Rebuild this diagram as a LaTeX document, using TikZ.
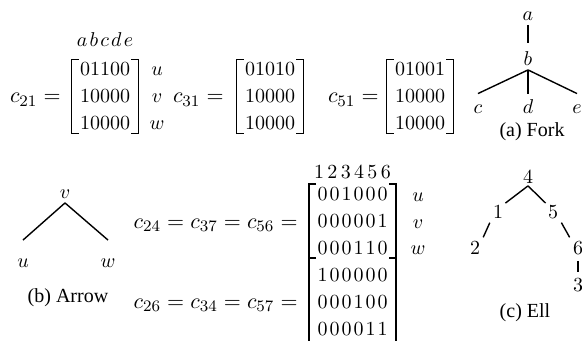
\documentclass[tikz,border=0pt]{standalone}
\usepackage{amsmath}
\usepackage{fontspec}
\newfontfamily\capfont{Liberation Serif}
\usetikzlibrary{matrix}

\begin{document}
\begin{tikzpicture}[x=0.5pt, y=-0.5pt,
    mat/.style={matrix of math nodes, inner xsep=4pt, inner ysep=1.5pt, row sep=7pt,
        nodes={inner sep=0pt, text height=6.5pt, text depth=0pt}},
    matsp/.style={mat, column sep=1pt},
    brk/.style={line width=0.8pt},
    leaf/.style={inner sep=1pt, text height=1.5ex, text depth=.25ex},
    numv/.style={inner sep=1pt, text height=6.5pt, text depth=0pt},
    branch/.style={line width=0.7pt},
    lbl/.style={anchor=base east, inner sep=0pt, font=\fontsize{11}{13}\selectfont},
    capt/.style={anchor=base, font=\capfont}
]
\useasboundingbox (0,0) rectangle (582,341);

% top row
\node[anchor=base, inner sep=0pt] (hd1) at (105,46.5) {$a\mkern2mu b\mkern2mu c\mkern2mu d\mkern2mu e$};
\node[lbl] (l21) at (61,103) {$c_{21} =$};
\matrix (m21) [mat] at (105,96.5) {01100\\10000\\10000\\};
\node[anchor=base] (u1) at (157,76) {$u$};
\node[anchor=base] (v1) at (157,103) {$v$};
\node[anchor=base] (w1) at (157,130) {$w$};
\node[lbl] (l31) at (224,103) {$c_{31} =$};
\matrix (m31) [mat] at (270,96.5) {01010\\10000\\10000\\};
\node[lbl] (l51) at (379,103) {$c_{51} =$};
\matrix (m51) [mat] at (420,96.5) {01001\\10000\\10000\\};

\draw[brk] ([xshift=3.5pt]m21.north west) -| (m21.south west) -- ++(3.5pt,0);
\draw[brk] ([xshift=-3.5pt]m21.north east) -| (m21.south east) -- ++(-3.5pt,0);
\draw[brk] ([xshift=3.5pt]m31.north west) -| (m31.south west) -- ++(3.5pt,0);
\draw[brk] ([xshift=-3.5pt]m31.north east) -| (m31.south east) -- ++(-3.5pt,0);
\draw[brk] ([xshift=3.5pt]m51.north west) -| (m51.south west) -- ++(3.5pt,0);
\draw[brk] ([xshift=-3.5pt]m51.north east) -| (m51.south east) -- ++(-3.5pt,0);

% fork
\node[leaf] (a) at (528,15) {$a$};
\node[leaf] (b) at (528,60) {$b$};
\node[leaf] (c) at (478,108) {$c$};
\node[leaf] (d) at (528,108) {$d$};
\node[leaf] (e) at (577,108) {$e$};
\draw[branch] (a.south) -- ([yshift=3.75pt]b.north);
\draw[branch] (b.south) -- ([yshift=2.25pt]c.north);
\draw[branch] (b.south) -- ([yshift=2.25pt]d.north);
\draw[branch] (b.south) -- ([yshift=2.25pt]e.north);
\node[capt] (capa) at (532,137) {(a) Fork};

% arrow
\node[leaf] (v) at (65,193) {$v$};
\node[leaf] (u) at (23,262) {$u$};
\node[leaf] (w) at (108,262) {$w$};
\draw[branch] (v.south) -- ([yshift=6pt]u.north);
\draw[branch] (v.south) -- ([yshift=6pt]w.north);
\node[capt] (capb) at (68,302) {(b) Arrow};

% bottom matrices
\node[anchor=base, inner sep=0pt] (hd2) at (352.5,178.5) {$1\,2\,3\,4\,5\,6$};
\node[lbl] (lrow1) at (298,228.5) {$c_{24} = c_{37} = c_{56} =$};
\matrix (ma) [matsp] at (352.5,221) {0&0&1&0&0&0\\0&0&0&0&0&1\\0&0&0&1&1&0\\};
\node[anchor=base] (u2) at (418,201.5) {$u$};
\node[anchor=base] (v2) at (418,228.5) {$v$};
\node[anchor=base] (w2) at (418,255) {$w$};
\node[lbl] (lrow2) at (298,308) {$c_{26} = c_{34} = c_{57} =$};
\matrix (mb) [matsp, inner ysep=4.75pt] at (352.5,302) {1&0&0&0&0&0\\0&0&0&1&0&0\\0&0&0&0&1&1\\};

\draw[brk] ([xshift=3.5pt]ma.north west) -| (ma.south west) -- ++(3.5pt,0);
\draw[brk] ([xshift=-3.5pt]ma.north east) -| (ma.south east) -- ++(-3.5pt,0);
\draw[brk] ([xshift=3.5pt]mb.north west) -| (mb.south west) -- ++(3.5pt,0);
\draw[brk] ([xshift=-3.5pt]mb.north east) -| (mb.south east) -- ++(-3.5pt,0);

% ell
\node[numv] (n4) at (528,177) {$4$};
\node[numv] (n1) at (498,212) {$1$};
\node[numv] (n5) at (553,212) {$5$};
\node[numv] (n2) at (475,248) {$2$};
\node[numv] (n6) at (578,248) {$6$};
\node[numv] (n3) at (578,285) {$3$};
\draw[branch] (n4.south) -- (n1.north east);
\draw[branch] (n4.south) -- (n5.north west);
\draw[branch, shorten <=1pt, shorten >=1pt] (n1.south west) -- (n2.north east);
\draw[branch, shorten <=1pt, shorten >=1pt] (n5.south east) -- (n6.north west);
\draw[branch, shorten <=2pt, shorten >=2pt] (n6) -- (n3);
\node[capt] (capc) at (525,317) {(c) Ell};
\end{tikzpicture}
\end{document}
